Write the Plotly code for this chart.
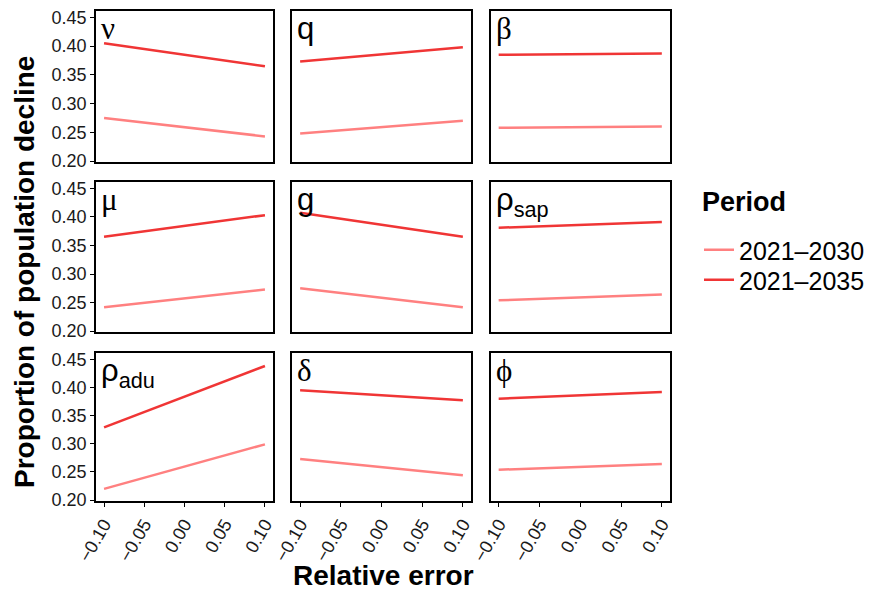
import plotly.graph_objects as go

# ---- data ----
panels = ["ν", "q", "β", "μ", "g", "ρ<sub>sap</sub>", "ρ<sub>adu</sub>", "δ", "ϕ"]
serif = [True, False, True, True, False, False, False, True, True]
rel_error = [-0.10, 0.00, 0.10]
period_labels = ["2021–2030", "2021–2035"]
v2030 = [
    [0.275, 0.259, 0.243],   # nu
    [0.248, 0.259, 0.270],   # q
    [0.258, 0.259, 0.260],   # beta
    [0.242, 0.257, 0.273],   # mu
    [0.275, 0.258, 0.242],   # g
    [0.254, 0.259, 0.264],   # rho_sap
    [0.220, 0.260, 0.299],   # rho_adu
    [0.273, 0.258, 0.244],   # delta
    [0.254, 0.259, 0.264],   # phi
]
v2035 = [
    [0.405, 0.385, 0.365],
    [0.373, 0.386, 0.398],
    [0.385, 0.386, 0.387],
    [0.365, 0.384, 0.403],
    [0.407, 0.386, 0.365],
    [0.381, 0.386, 0.391],
    [0.329, 0.384, 0.438],
    [0.395, 0.386, 0.377],
    [0.380, 0.386, 0.392],
]
x_ticks = [-0.10, -0.05, 0.00, 0.05, 0.10]
x_ticktext = ["−0.10", "−0.05", "0.00", "0.05", "0.10"]
y_ticks = [0.20, 0.25, 0.30, 0.35, 0.40, 0.45]
y_ticktext = ["0.20", "0.25", "0.30", "0.35", "0.40", "0.45"]
colors = ["#FF8080", "#F03535"]

W, H = 875, 591
col_px = [(96, 273), (292, 471), (490.5, 670)]
row_px = [(11, 162), (182, 332), (353, 501)]
SANS = "Liberation Sans, Arial"

fig = go.Figure()
layout = {}
annotations = []
for i, name in enumerate(panels):
    r, c = divmod(i, 3)
    k = i + 1
    xa = "x" if k == 1 else f"x{k}"
    ya = "y" if k == 1 else f"y{k}"
    for j, vals in enumerate([v2030, v2035]):
        fig.add_trace(go.Scatter(
            x=rel_error, y=vals[i], mode="lines",
            line=dict(color=colors[j], width=2.5),
            name=period_labels[j], legendgroup=period_labels[j],
            legend="legend" if j == 0 else "legend2",
            showlegend=(i == 0), xaxis=xa, yaxis=ya,
        ))
    xd = [col_px[c][0] / W, col_px[c][1] / W]
    yd = [1 - row_px[r][1] / H, 1 - row_px[r][0] / H]
    axcommon = dict(showline=True, mirror=True, linecolor="black", linewidth=1.6,
                    showgrid=False, zeroline=False, ticks="outside", ticklen=4,
                    tickwidth=1.2, tickcolor="black", automargin=False,
                    tickfont=dict(family=SANS, size=18, color="#1a1a1a"))
    layout["xaxis" + ("" if k == 1 else str(k))] = dict(
        domain=xd, range=[-0.11, 0.11], anchor=ya,
        tickvals=x_ticks if r == 2 else [], ticktext=x_ticktext if r == 2 else [],
        tickangle=-60, **axcommon)
    layout["yaxis" + ("" if k == 1 else str(k))] = dict(
        domain=yd, range=[0.1985, 0.461], anchor=xa,
        tickvals=y_ticks if c == 0 else [], ticktext=y_ticktext if c == 0 else [],
        **axcommon)
    annotations.append(dict(
        text=name, x=xd[0] + 3 / W, y=yd[1] + 2 / H, xref="paper", yref="paper",
        xanchor="left", yanchor="top", showarrow=False,
        font=dict(family=("Liberation Serif, DejaVu Serif" if serif[i] else SANS),
                  size=31, color="black")))

annotations.append(dict(
    text="<b>Proportion of population decline</b>", x=24 / W, y=1 - 272 / H,
    xref="paper", yref="paper", textangle=-90, showarrow=False,
    xanchor="center", yanchor="middle",
    font=dict(family=SANS, size=28, color="black")))
annotations.append(dict(
    text="<b>Relative error</b>", x=383 / W, y=1 - 575 / H,
    xref="paper", yref="paper", showarrow=False,
    xanchor="center", yanchor="middle",
    font=dict(family=SANS, size=28, color="black")))
annotations.append(dict(
    text="<b>Period</b>", x=700 / W, y=1 - 202 / H,
    xref="paper", yref="paper", showarrow=False,
    xanchor="left", yanchor="middle",
    font=dict(family=SANS, size=27, color="black")))

leg_common = dict(xanchor="left", yanchor="middle", bgcolor="rgba(0,0,0,0)",
                  font=dict(size=25, family=SANS, color="black"), tracegroupgap=0)
fig.update_layout(
    width=W, height=H, margin=dict(l=0, r=0, t=0, b=0),
    plot_bgcolor="white", paper_bgcolor="white",
    annotations=annotations,
    legend=dict(x=699 / W, y=1 - 250 / H, **leg_common),
    legend2=dict(x=699 / W, y=1 - 280 / H, **leg_common),
    **layout,
)
fig.write_html("out.html", config={"displayModeBar": False},
               post_script="document.body.style.margin='0';")
